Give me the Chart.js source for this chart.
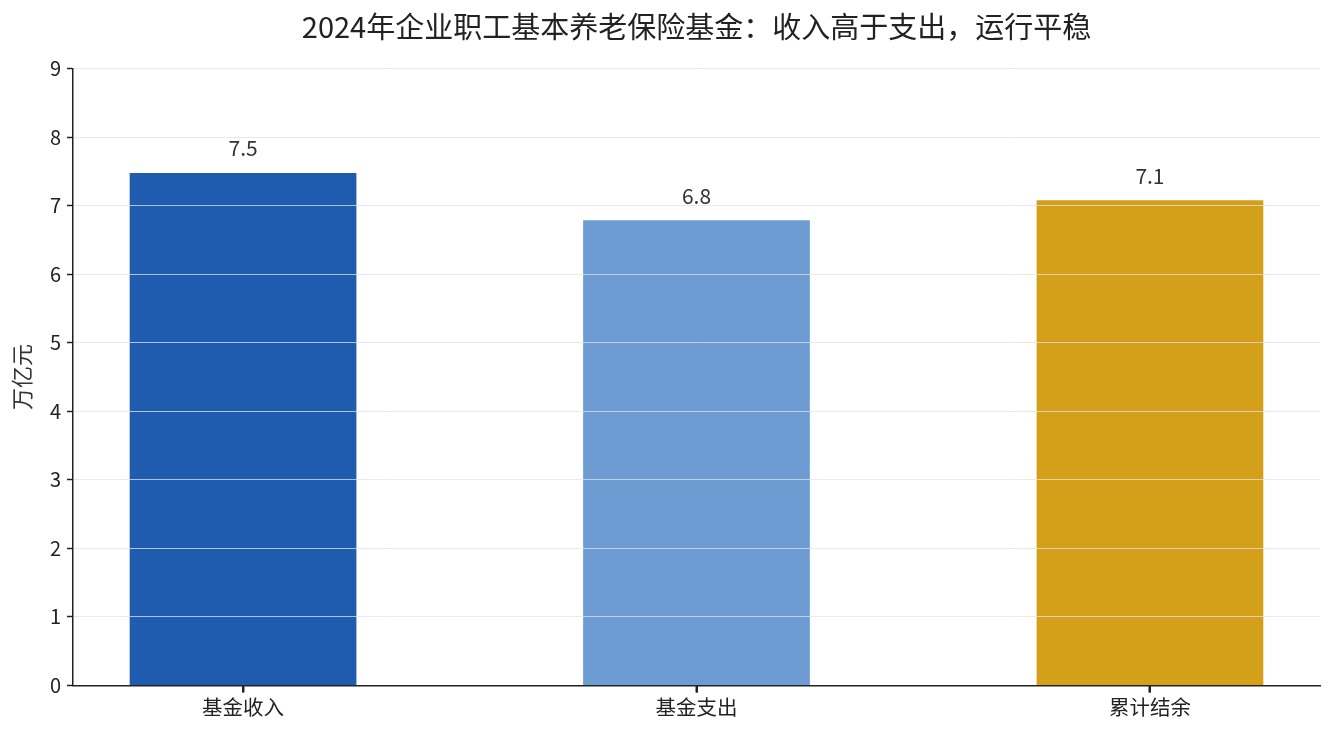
<!DOCTYPE html>
<html>
<head>
<meta charset="utf-8">
<script src="https://cdn.jsdelivr.net/npm/chart.js@4/dist/chart.umd.min.js"></script>
<style>
  body { margin: 0; background: #fff; }
  #wrap { width: 1335px; height: 735px; }
</style>
</head>
<body>
<div id="wrap"><canvas id="chart" width="1335" height="735"></canvas></div>
<script>
const categories = ["基金收入", "基金支出", "累计结余"];
const values = [7.48, 6.79, 7.08];
const valueLabels = ["7.5", "6.8", "7.1"];
const barColors = ["#1f5bae", "#6c9cd2", "#d4a01a"];
const yTicks = [0, 1, 2, 3, 4, 5, 6, 7, 8, 9];

const FONT = "'Noto Sans CJK SC', 'Noto Sans', sans-serif";

// value labels above each bar, plus tick marks under each category
const barLabels = {
  id: "barLabels",
  afterDraw(chart) {
    const ctx = chart.ctx;
    const meta = chart.getDatasetMeta(0);
    const xScale = chart.scales.x;
    ctx.save();
    ctx.font = "21px " + FONT;
    ctx.fillStyle = "#333";
    ctx.textAlign = "center";
    ctx.textBaseline = "bottom";
    meta.data.forEach((bar, i) => {
      ctx.fillText(valueLabels[i], bar.x, bar.y - 14);
    });
    ctx.strokeStyle = "#222";
    ctx.lineWidth = 2;
    categories.forEach((c, i) => {
      const px = Math.round(xScale.getPixelForValue(i));
      ctx.beginPath();
      ctx.moveTo(px, xScale.top);
      ctx.lineTo(px, xScale.top + 7);
      ctx.stroke();
    });
    ctx.restore();
  },
};

const ctx = document.getElementById("chart").getContext("2d");
new Chart(ctx, {
  type: "bar",
  data: {
    datasets: [
      {
        data: categories.map((c, i) => ({ x: i, y: values[i] })),
        backgroundColor: barColors,
        barPercentage: 0.5,
        categoryPercentage: 1,
        borderWidth: 0,
      },
    ],
  },
  options: {
    responsive: false,
    animation: false,
    layout: { padding: { top: 10, right: 15, bottom: 12, left: 8 } },
    plugins: {
      legend: { display: false },
      tooltip: { enabled: false },
      title: {
        display: true,
        fullSize: false,
        text: "2024年企业职工基本养老保险基金：收入高于支出，运行平稳",
        color: "#222",
        font: { family: FONT, size: 29, weight: "normal" },
        padding: { top: 0, bottom: 24 },
      },
    },
    scales: {
      x: {
        type: "linear",
        min: -0.375,
        max: 2.375,
        offset: false,
        afterBuildTicks: (scale) => {
          scale.ticks = categories.map((c, i) => ({ value: i }));
        },
        ticks: {
          callback: (v) => categories[v],
          color: "#222",
          font: { family: FONT, size: 20.5 },
          padding: 3,
          maxRotation: 0,
        },
        grid: {
          offset: false,
          drawOnChartArea: false,
          drawTicks: true,
          tickLength: 7,
          tickWidth: 2,
          tickColor: "#222",
          color: "#222",
        },
        border: { color: "#222", width: 1.5, z: 2 },
      },
      y: {
        min: 0,
        max: 9,
        afterBuildTicks: (scale) => {
          scale.ticks = yTicks.map((v) => ({ value: v }));
        },
        afterFit: (scale) => {
          scale.width = 65;
        },
        ticks: {
          color: "#222",
          font: { family: FONT, size: 20 },
          padding: 6,
        },
        grid: {
          z: 1,
          color: "rgba(225,225,225,0.75)",
          lineWidth: 1,
          tickLength: 6,
          tickColor: "#222",
          tickWidth: 1.5,
        },
        border: { color: "#222", width: 1.5, z: 2 },
        title: {
          display: true,
          text: "万亿元",
          color: "#333",
          font: { family: FONT, size: 22 },
          padding: { top: 0, bottom: 0 },
        },
      },
    },
  },
  plugins: [barLabels],
});
</script>
</body>
</html>
